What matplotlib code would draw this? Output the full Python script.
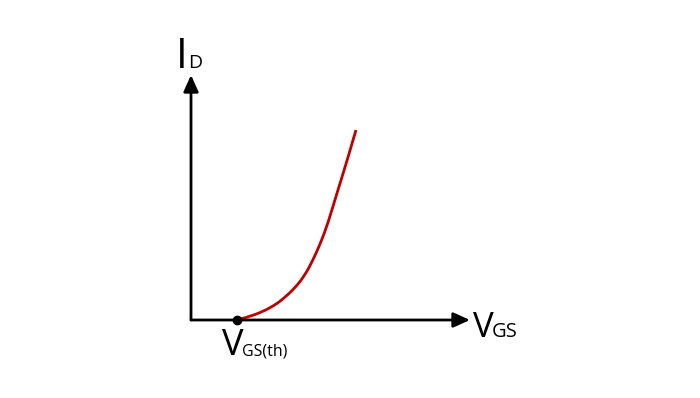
import matplotlib
matplotlib.use('Agg')
import matplotlib.pyplot as plt
from matplotlib.path import Path
from matplotlib.patches import PathPatch

# curve: gate voltage past the origin vs drain current (arbitrary units)
vgs = [46, 57, 71, 84, 92, 104, 114, 122, 130, 137, 146, 156, 165]
i_d = [0, 3, 8, 15, 21, 32, 45, 60, 78, 97, 127, 159, 190]
vth = 46

x_end = 279   # end of V_GS axis
y_end = 245   # end of I_D axis

fig = plt.figure(figsize=(7, 3.98), dpi=100)
ax = fig.add_axes([0, 0, 1, 1])
ax.set_xlim(-191, 509)
ax.set_ylim(-78, 320)
ax.axis('off')

# axes with arrow heads
arrow = dict(arrowstyle='-|>,head_length=1.0,head_width=0.45', lw=2, color='black',
             shrinkA=0, shrinkB=0)
ax.annotate('', xy=(x_end, 0), xytext=(0, 0), arrowprops=arrow)
ax.annotate('', xy=(0, y_end), xytext=(0, 0), arrowprops=arrow)

# smooth curve through the read points (quadratic bezier, points as control points)
pts = list(zip(vgs, i_d))
verts = [pts[0]]
codes = [Path.MOVETO]
for i in range(1, len(pts) - 1):
    nxt = pts[i + 1] if i + 1 == len(pts) - 1 else ((pts[i][0] + pts[i + 1][0]) / 2,
                                                   (pts[i][1] + pts[i + 1][1]) / 2)
    verts += [pts[i], nxt]
    codes += [Path.CURVE3, Path.CURVE3]
ax.add_patch(PathPatch(Path(verts, codes), fill=False, edgecolor='#BE0000', lw=2.0,
                       capstyle='butt'))
ax.plot([vth], [0], 'o', color='black', ms=6, zorder=5)

font = 'Open Sans'
ax.text(-15, 252, 'I', fontsize=30, family=font, va='baseline', ha='left')
ax.text(-3, 252, 'D', fontsize=14, family=font, va='baseline', ha='left')
ax.text(282, -17, 'V', fontsize=25, family=font, va='baseline', ha='left')
ax.text(301, -17, 'GS', fontsize=14.5, family=font, va='baseline', ha='left')
ax.text(31, -35, 'V', fontsize=26, family=font, va='baseline', ha='left')
ax.text(51, -35, 'GS(th)', fontsize=11.5, family=font, va='baseline', ha='left')

plt.savefig('out.png', dpi=100)
